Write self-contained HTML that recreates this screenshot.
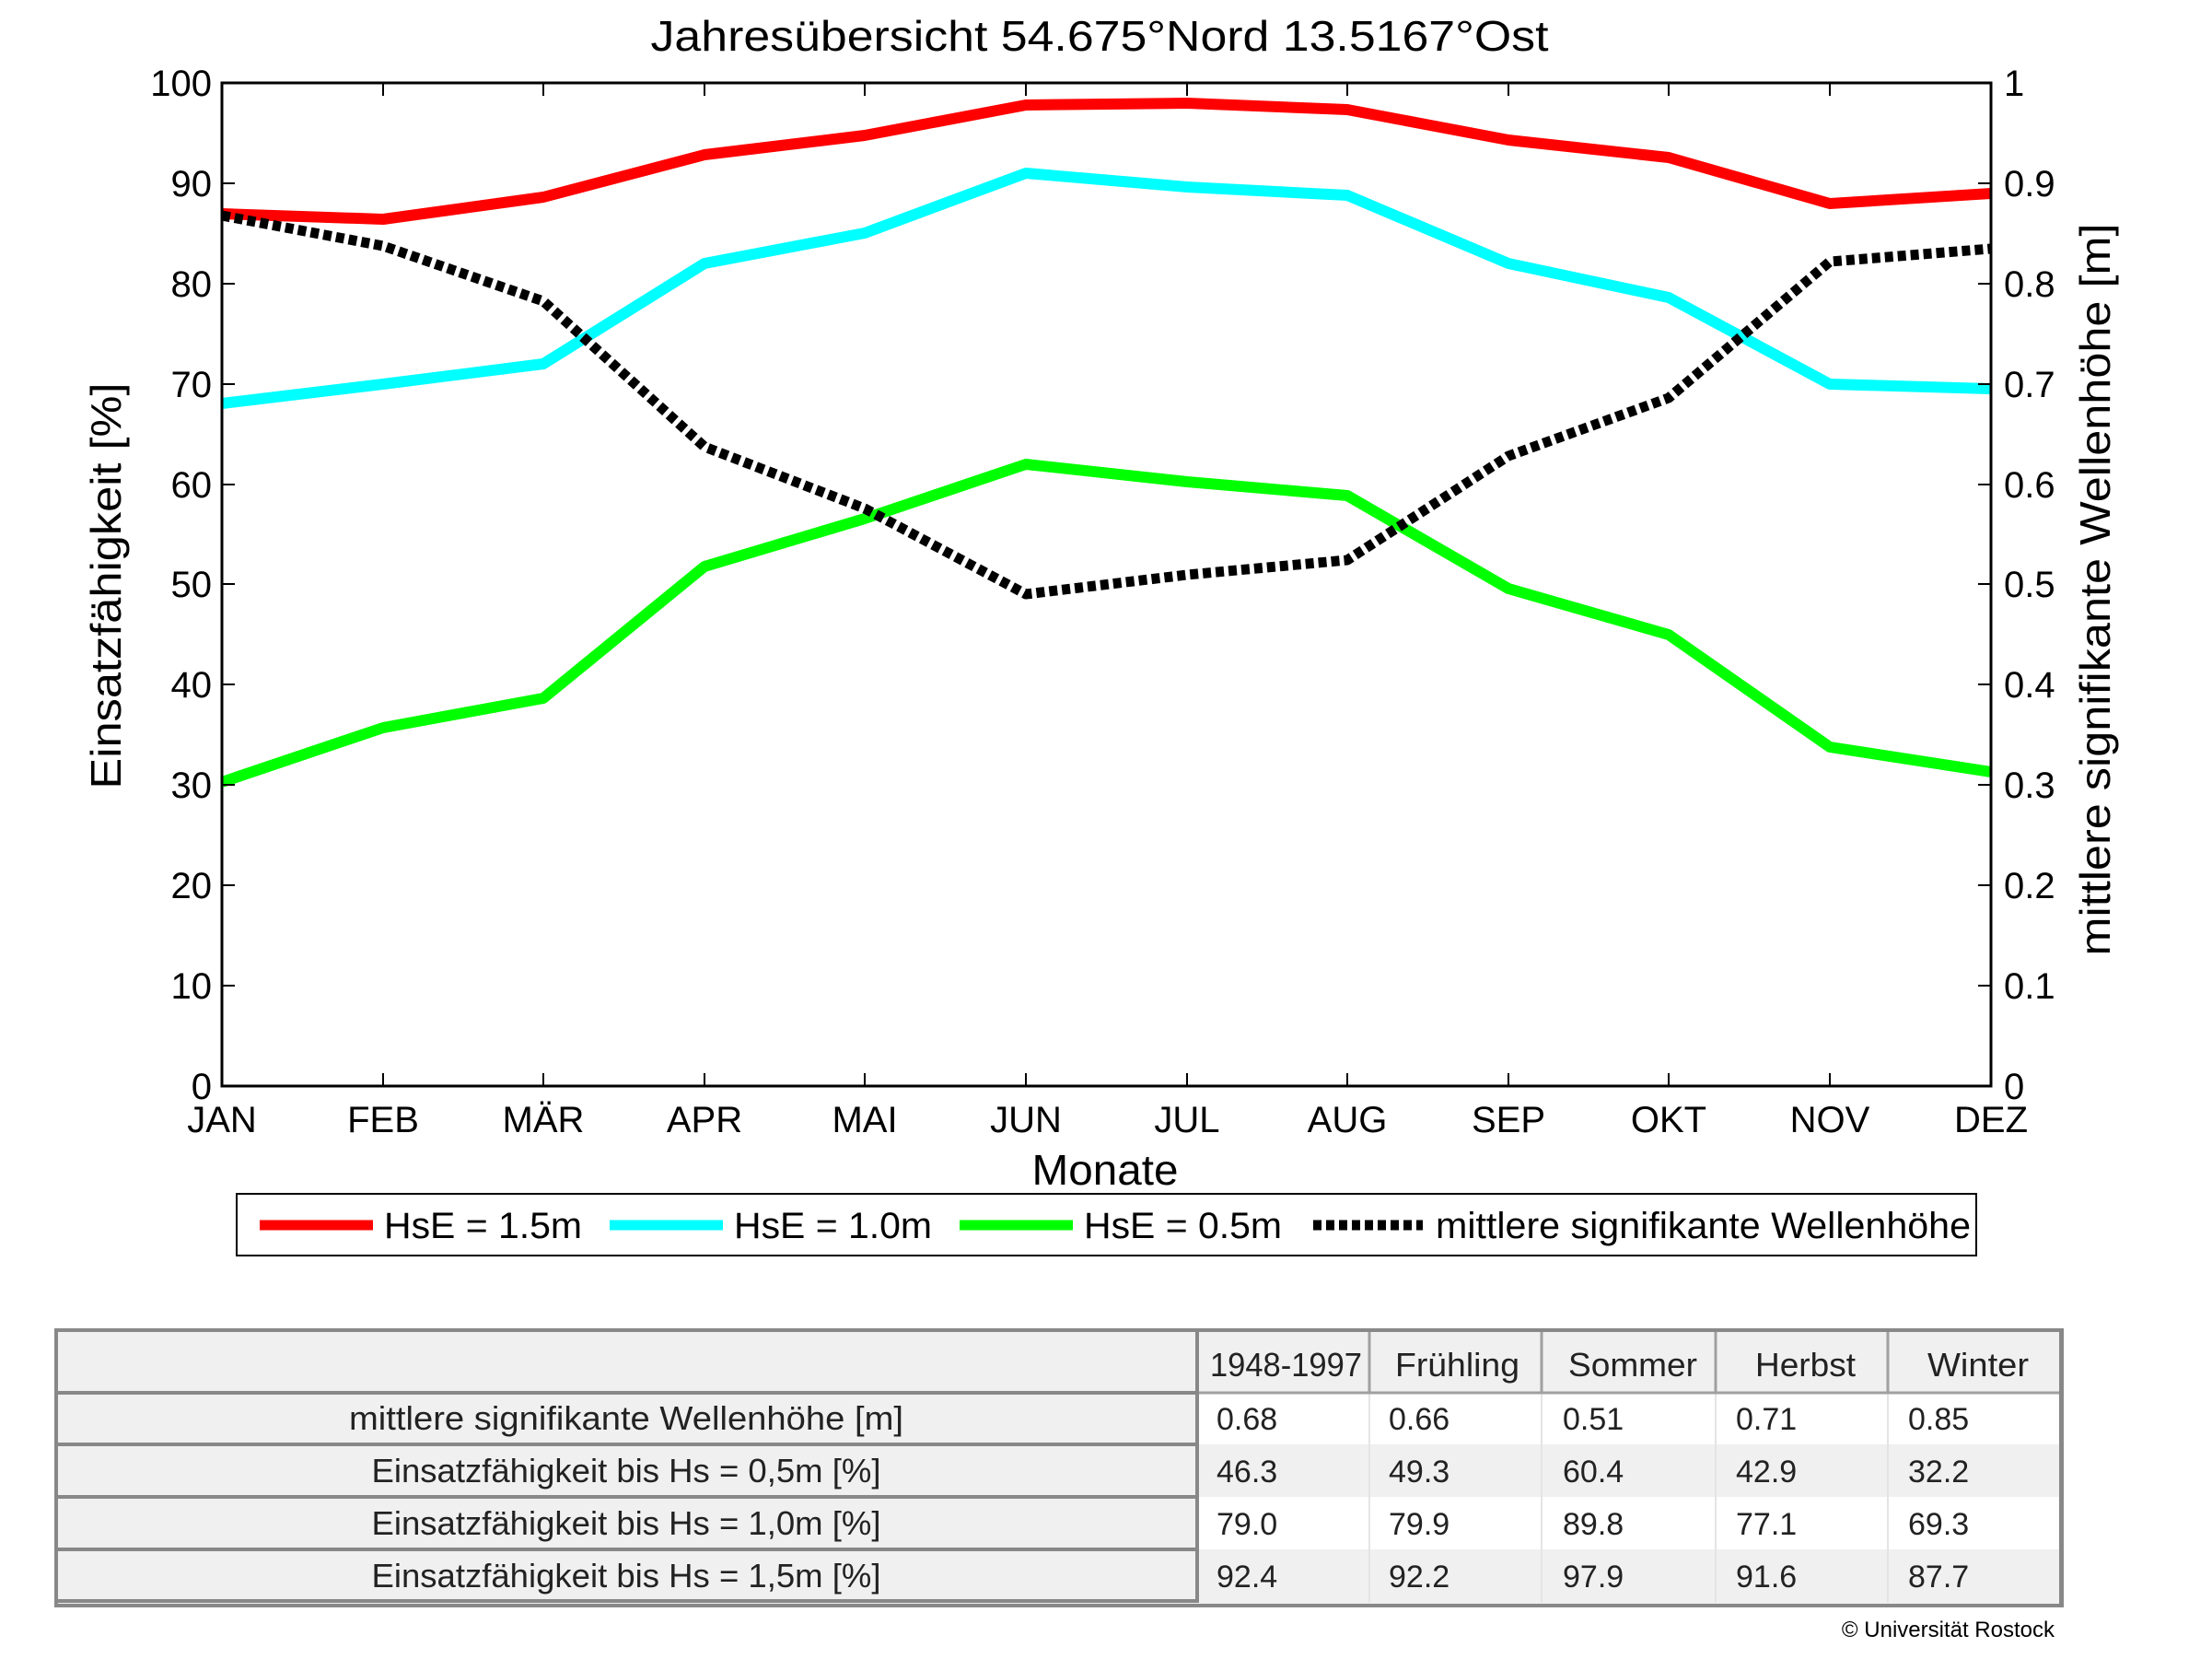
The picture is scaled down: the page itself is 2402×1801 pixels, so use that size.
<!DOCTYPE html>
<html><head><meta charset="utf-8"><style>html,body{margin:0;padding:0;background:#fff}svg{display:block}</style></head>
<body>
<svg width="2402" height="1801" viewBox="0 0 2402 1801" xmlns="http://www.w3.org/2000/svg" font-family="Liberation Sans, Arial, sans-serif">
<rect width="2402" height="1801" fill="#fff"/>
<text x="1194" y="55" font-size="46" text-anchor="middle" textLength="975" lengthAdjust="spacingAndGlyphs">Jahresübersicht  54.675°Nord  13.5167°Ost</text>
<g fill="none" stroke-linejoin="round">
<polyline stroke="#ff0000" stroke-width="12" points="241,232 416,238 590,214 765,168 939,147 1114,114 1289,112 1463,119 1638,152 1812,171 1987,221 2162,210"/>
<polyline stroke="#00ffff" stroke-width="12" points="241,438 416,417 590,395 765,286 939,253 1114,188 1289,203 1463,212 1638,286 1812,323 1987,417 2162,422"/>
<polyline stroke="#00ff00" stroke-width="12" points="241,849 416,790 590,758 765,615 939,563 1114,504 1289,523 1463,538 1638,639 1812,689 1987,811 2162,838"/>
<polyline stroke="#000" stroke-width="11" stroke-dasharray="9 5" points="241,234 416,267 590,327 765,485 939,552 1114,645 1289,624 1463,608 1638,495 1812,432 1987,284 2162,270"/>
</g>
<rect x="241" y="90" width="1921" height="1089" fill="none" stroke="#000" stroke-width="3"/>
<g stroke="#000" stroke-width="2">
<path d="M416,1179v-14M590,1179v-14M765,1179v-14M939,1179v-14M1114,1179v-14M1289,1179v-14M1463,1179v-14M1638,1179v-14M1812,1179v-14M1987,1179v-14"/>
<path d="M416,90v14M590,90v14M765,90v14M939,90v14M1114,90v14M1289,90v14M1463,90v14M1638,90v14M1812,90v14M1987,90v14"/>
<path d="M241,199h14M241,308h14M241,417h14M241,526h14M241,634h14M241,743h14M241,852h14M241,961h14M241,1070h14"/>
<path d="M2162,199h-14M2162,308h-14M2162,417h-14M2162,526h-14M2162,634h-14M2162,743h-14M2162,852h-14M2162,961h-14M2162,1070h-14"/>
</g>
<g font-size="40" text-anchor="end">
<text x="230" y="104">100</text><text x="230" y="213">90</text><text x="230" y="322">80</text><text x="230" y="431">70</text><text x="230" y="540">60</text><text x="230" y="648">50</text><text x="230" y="757">40</text><text x="230" y="866">30</text><text x="230" y="975">20</text><text x="230" y="1084">10</text><text x="230" y="1193">0</text>
</g>
<g font-size="40">
<text x="2176" y="104">1</text><text x="2176" y="213">0.9</text><text x="2176" y="322">0.8</text><text x="2176" y="431">0.7</text><text x="2176" y="540">0.6</text><text x="2176" y="648">0.5</text><text x="2176" y="757">0.4</text><text x="2176" y="866">0.3</text><text x="2176" y="975">0.2</text><text x="2176" y="1084">0.1</text><text x="2176" y="1193">0</text>
</g>
<g font-size="40" text-anchor="middle">
<text x="241" y="1229">JAN</text><text x="416" y="1229">FEB</text><text x="590" y="1229">MÄR</text><text x="765" y="1229">APR</text><text x="939" y="1229">MAI</text><text x="1114" y="1229">JUN</text><text x="1289" y="1229">JUL</text><text x="1463" y="1229">AUG</text><text x="1638" y="1229">SEP</text><text x="1812" y="1229">OKT</text><text x="1987" y="1229">NOV</text><text x="2162" y="1229">DEZ</text>
<text x="1200" y="1286" font-size="46" textLength="159" lengthAdjust="spacingAndGlyphs">Monate</text>
</g>
<text transform="translate(131,636) rotate(-90)" font-size="46" text-anchor="middle" textLength="441" lengthAdjust="spacingAndGlyphs">Einsatzfähigkeit [%]</text>
<text transform="translate(2291,640) rotate(-90)" font-size="46" text-anchor="middle" textLength="795" lengthAdjust="spacingAndGlyphs">mittlere signifikante Wellenhöhe [m]</text>
<rect x="257" y="1296" width="1889" height="67" fill="#fff" stroke="#000" stroke-width="2"/>
<g stroke-width="11">
<line x1="282" y1="1330" x2="405" y2="1330" stroke="#ff0000"/>
<line x1="662" y1="1330" x2="785" y2="1330" stroke="#00ffff"/>
<line x1="1042" y1="1330" x2="1165" y2="1330" stroke="#00ff00"/>
<line x1="1426" y1="1330" x2="1545" y2="1330" stroke="#000" stroke-dasharray="9 5"/>
</g>
<g font-size="40">
<text x="417" y="1344" textLength="215" lengthAdjust="spacingAndGlyphs">HsE = 1.5m</text>
<text x="797" y="1344" textLength="215" lengthAdjust="spacingAndGlyphs">HsE = 1.0m</text>
<text x="1177" y="1344" textLength="215" lengthAdjust="spacingAndGlyphs">HsE = 0.5m</text>
<text x="1559" y="1344" textLength="581" lengthAdjust="spacingAndGlyphs">mittlere signifikante Wellenhöhe</text>
</g>
<rect x="60" y="1444" width="2181" height="299" fill="#f0f0f0"/>
<rect x="1300" y="1512" width="938" height="56" fill="#fff"/>
<rect x="1300" y="1625" width="938" height="57" fill="#fff"/>
<g stroke="#e4e4e4" stroke-width="2"><path d="M1487,1512V1740M1674,1512V1740M1863,1512V1740M2050,1512V1740"/></g>
<g stroke="#a0a0a0" stroke-width="3"><path d="M1487,1444V1512M1674,1444V1512M1863,1444V1512M2050,1444V1512M1300,1512H2238"/></g>
<g stroke="#888" stroke-width="4" fill="none">
<rect x="61" y="1444" width="2178" height="299"/>
<path d="M62,1512H1300M62,1568H1300M62,1625H1300M62,1682H1300M62,1738H1300M1300,1444V1740M2238,1444V1742"/>
</g>
<g font-size="36" fill="#222">
<text x="1314" y="1494" textLength="165" lengthAdjust="spacingAndGlyphs">1948-1997</text>
<text x="1515" y="1494" textLength="135" lengthAdjust="spacingAndGlyphs">Frühling</text>
<text x="1703" y="1494" textLength="140" lengthAdjust="spacingAndGlyphs">Sommer</text>
<text x="1906" y="1494" textLength="109" lengthAdjust="spacingAndGlyphs">Herbst</text>
<text x="2093" y="1494" textLength="110" lengthAdjust="spacingAndGlyphs">Winter</text>
<text x="680" y="1552" text-anchor="middle" textLength="602" lengthAdjust="spacingAndGlyphs">mittlere signifikante Wellenhöhe [m]</text>
<text x="680" y="1609" text-anchor="middle" textLength="553" lengthAdjust="spacingAndGlyphs">Einsatzfähigkeit bis Hs = 0,5m [%]</text>
<text x="680" y="1666" text-anchor="middle" textLength="553" lengthAdjust="spacingAndGlyphs">Einsatzfähigkeit bis Hs = 1,0m [%]</text>
<text x="680" y="1723" text-anchor="middle" textLength="553" lengthAdjust="spacingAndGlyphs">Einsatzfähigkeit bis Hs = 1,5m [%]</text>
</g>
<g font-size="34" fill="#222">
<text x="1321" y="1552">0.68</text><text x="1508" y="1552">0.66</text><text x="1697" y="1552">0.51</text><text x="1885" y="1552">0.71</text><text x="2072" y="1552">0.85</text>
<text x="1321" y="1609">46.3</text><text x="1508" y="1609">49.3</text><text x="1697" y="1609">60.4</text><text x="1885" y="1609">42.9</text><text x="2072" y="1609">32.2</text>
<text x="1321" y="1666">79.0</text><text x="1508" y="1666">79.9</text><text x="1697" y="1666">89.8</text><text x="1885" y="1666">77.1</text><text x="2072" y="1666">69.3</text>
<text x="1321" y="1723">92.4</text><text x="1508" y="1723">92.2</text><text x="1697" y="1723">97.9</text><text x="1885" y="1723">91.6</text><text x="2072" y="1723">87.7</text>
</g>
<text x="2231" y="1777" font-size="24" text-anchor="end">© Universität Rostock</text>
</svg>
</body></html>
